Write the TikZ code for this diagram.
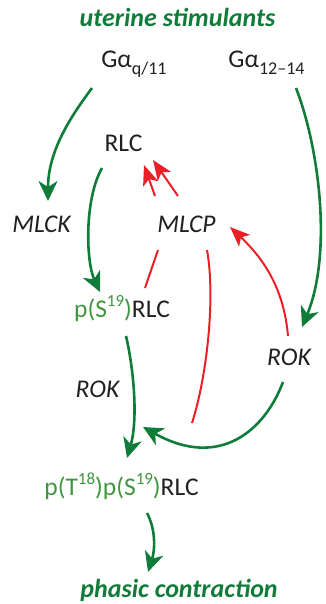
\documentclass[tikz,border=0pt]{standalone}
\usepackage{fontspec}
\setmainfont{Carlito}
\usetikzlibrary{arrows.meta}
\definecolor{sigGreen}{RGB}{16,124,58}
\definecolor{phosGreen}{RGB}{64,150,62}
\definecolor{inhibRed}{RGB}{236,30,38}
\definecolor{textBlack}{RGB}{35,31,32}
\newcommand{\gsub}[1]{\raisebox{-0.25em}{\fontsize{18}{18}\selectfont #1}}
\newcommand{\psite}[1]{\raisebox{0.42em}{\fontsize{17}{17}\selectfont #1}}

\begin{document}
\begin{tikzpicture}[x=1pt, y=-1pt,
    species/.style={anchor=base, inner sep=0pt, text=textBlack, font=\fontsize{25.5}{25.5}\selectfont},
    enzyme/.style={species, font=\fontsize{25.5}{25.5}\selectfont\itshape},
    outcome/.style={species, text=sigGreen, font=\fontsize{26}{26}\selectfont\bfseries\itshape},
    activation/.style={-{Stealth[length=20pt, width=19pt, inset=6pt]}, line width=2.6pt, sigGreen},
    dephos/.style={line width=2pt, inhibRed},
    dephos arrow/.style={dephos, -{Stealth[length=20pt, width=16pt, inset=5pt]}}
]
\useasboundingbox (0,0) rectangle (326,604);

% Title
\node[outcome] (stim) at (177.5,27) {uterine stimulants};

% G proteins
\node[species] (gq) at (134,68) {Gα\gsub{q/11}};
\node[species] (g12) at (266.5,68) {Gα\gsub{12–14}};

% Light chain states
\node[species] (rlc) at (123.5,152) {RLC};
\node[species] (s19) at (122,317) {{\color{phosGreen}p(S\psite{19})}RLC};
\node[species] (pts) at (121.5,495) {{\color{phosGreen}p(T\psite{18})p(S\psite{19})}RLC};

% Enzymes
\node[enzyme] (mlck) at (41.5,232) {MLCK};
\node[enzyme] (mlcp) at (186.5,232) {MLCP};
\node[enzyme] (rokm) at (97.5,397) {ROK};
\node[enzyme] (rokr) at (289,365) {ROK};

% Outcome
\node[outcome] (phasic) at (179,597) {phasic contraction};

% Activating steps
\draw[activation] ([xshift=-42pt, yshift=-20pt]gq.base)
    .. controls (72,115) and (48,150) .. ([xshift=6.5pt, yshift=31pt]mlck.base);
\draw[activation] ([xshift=-21.5pt, yshift=-16pt]rlc.base)
    .. controls (84,200) and (86,262) .. ([xshift=-22pt, yshift=25pt]s19.base);
\draw[activation] ([xshift=29.5pt, yshift=-20pt]g12.base)
    .. controls (320,150) and (332,255) .. ([xshift=13pt, yshift=38pt]rokr.base);
\draw[activation] ([xshift=4pt, yshift=-19pt]s19.base)
    .. controls (134,370) and (138,420) .. ([xshift=5.5pt, yshift=37pt]pts.base);
\draw[activation] ([xshift=-6pt, yshift=-17pt]rokr.base)
    .. controls (265,430) and (220,470) .. ([xshift=21.5pt, yshift=68pt]pts.base);
\draw[activation] ([xshift=25.5pt, yshift=-18pt]pts.base)
    .. controls (156,530) and (155,550) .. ([xshift=-31pt, yshift=25pt]phasic.base);

% Dephosphorylation by MLCP
\draw[dephos] ([xshift=23pt, yshift=29pt]s19.base) -- ([xshift=-28.5pt, yshift=-18pt]mlcp.base);
\draw[dephos arrow] ([xshift=-31.5pt, yshift=36pt]mlcp.base) -- ([xshift=20.5pt, yshift=-13pt]rlc.base);
\draw[dephos] ([xshift=70.5pt, yshift=72pt]pts.base)
    .. controls (206,380) and (216,300) .. ([xshift=20.5pt, yshift=-18pt]mlcp.base);
\draw[dephos arrow] ([xshift=-8.5pt, yshift=36pt]mlcp.base) -- ([xshift=29.5pt, yshift=-8pt]rlc.base);

% ROK inhibits MLCP
\draw[dephos arrow] ([xshift=-1pt, yshift=29pt]rokr.base)
    .. controls (284,290) and (265,260) .. ([xshift=43.5pt, yshift=5pt]mlcp.base);

\end{tikzpicture}
\end{document}
